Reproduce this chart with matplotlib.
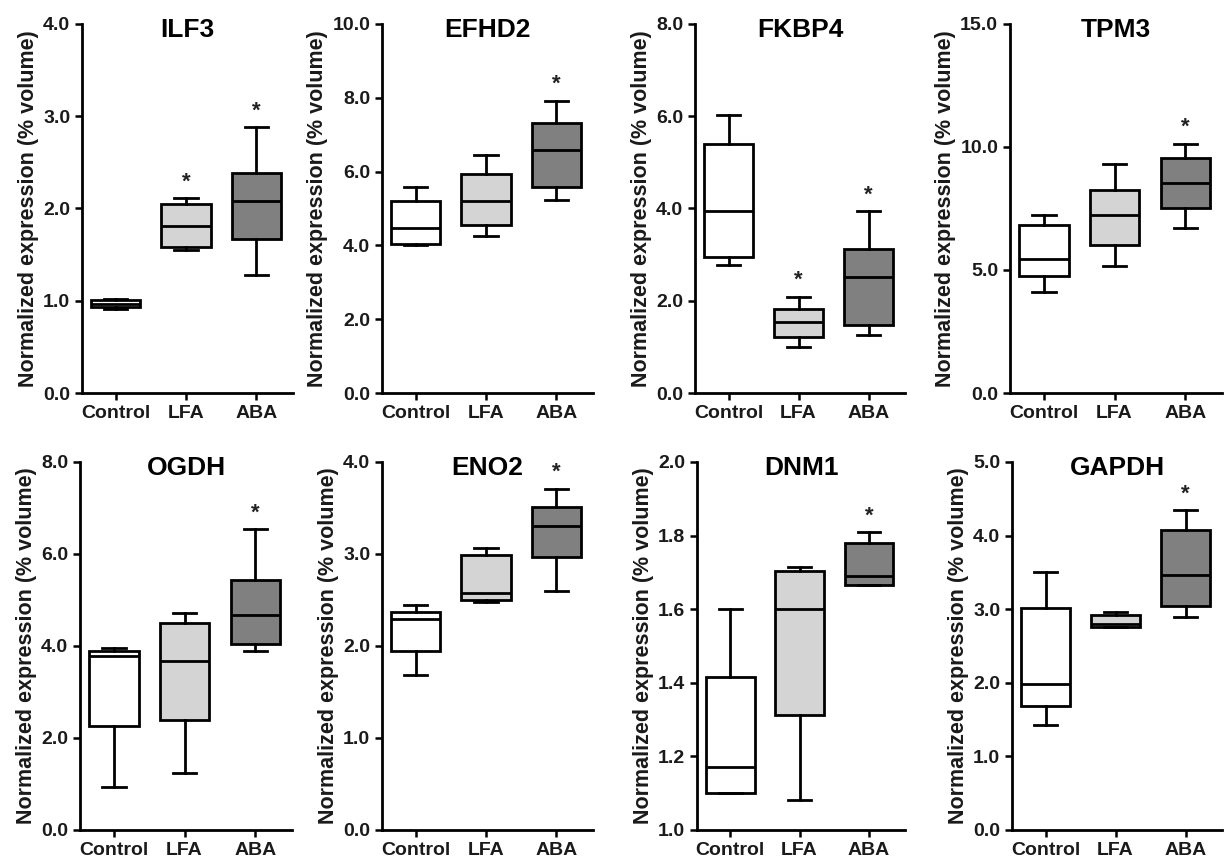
import matplotlib
matplotlib.use("Agg")
import matplotlib.pyplot as plt
from matplotlib.ticker import FormatStrFormatter

plt.rcParams['font.family'] = ['Liberation Sans', 'DejaVu Sans']
plt.rcParams['font.weight'] = 'bold'

groups = ['Control', 'LFA', 'ABA']
group_colors = ['#ffffff', '#d4d4d4', '#808080']

# per protein: (whislo, q1, median, q3, whishi) for Control, LFA, ABA
ilf3 = [(0.91, 0.93, 0.97, 1.01, 1.02), (1.55, 1.58, 1.81, 2.05, 2.11), (1.28, 1.67, 2.08, 2.38, 2.88)]
efhd2 = [(4.02, 4.04, 4.46, 5.19, 5.58), (4.25, 4.54, 5.19, 5.93, 6.44), (5.23, 5.57, 6.59, 7.31, 7.92)]
fkbp4 = [(2.78, 2.95, 3.95, 5.39, 6.03), (1.00, 1.21, 1.55, 1.83, 2.09), (1.25, 1.48, 2.51, 3.12, 3.95)]
tpm3 = [(4.11, 4.76, 5.45, 6.84, 7.24), (5.17, 6.03, 7.25, 8.27, 9.30), (6.71, 7.52, 8.54, 9.56, 10.14)]
ogdh = [(0.93, 2.27, 3.79, 3.90, 3.95), (1.23, 2.39, 3.68, 4.51, 4.72), (3.90, 4.04, 4.67, 5.43, 6.54)]
eno2 = [(1.68, 1.95, 2.29, 2.37, 2.45), (2.48, 2.50, 2.58, 2.99, 3.06), (2.60, 2.97, 3.30, 3.51, 3.71)]
dnm1 = [(1.10, 1.10, 1.17, 1.416, 1.60), (1.082, 1.313, 1.60, 1.704, 1.715), (1.665, 1.665, 1.69, 1.78, 1.809)]
gapdh = [(1.43, 1.68, 1.98, 3.02, 3.51), (2.76, 2.76, 2.80, 2.92, 2.96), (2.90, 3.05, 3.47, 4.07, 4.35)]

proteins = ['ILF3', 'EFHD2', 'FKBP4', 'TPM3', 'OGDH', 'ENO2', 'DNM1', 'GAPDH']
summaries = [ilf3, efhd2, fkbp4, tpm3, ogdh, eno2, dnm1, gapdh]
y_ticks = [
    [0, 1, 2, 3, 4],
    [0, 2, 4, 6, 8, 10],
    [0, 2, 4, 6, 8],
    [0, 5, 10, 15],
    [0, 2, 4, 6, 8],
    [0, 1, 2, 3, 4],
    [1.0, 1.2, 1.4, 1.6, 1.8, 2.0],
    [0, 1, 2, 3, 4, 5],
]
# groups marked significant (*) in each panel
significant = [[1, 2], [2], [1, 2], [2], [2], [2], [2], [2]]

# axes rectangles in pixels: left, top, right, bottom
W, H = 1226, 860
panel_px = [
    (82, 24, 293, 393), (382, 24, 593, 393), (695, 24, 905, 393), (1010, 24, 1222, 393),
    (80, 462, 292, 830), (382, 462, 593, 830), (697, 462, 905, 830), (1012, 462, 1222, 830),
]

fig = plt.figure(figsize=(W / 100, H / 100), dpi=100)

for name, stats, ticks, stars, (l, t, r, b) in zip(proteins, summaries, y_ticks, significant, panel_px):
    ax = fig.add_axes([l / W, (H - b) / H, (r - l) / W, (b - t) / H])
    box_stats = [
        dict(whislo=s[0], q1=s[1], med=s[2], q3=s[3], whishi=s[4], fliers=[], label=g)
        for s, g in zip(stats, groups)
    ]
    boxes = ax.bxp(box_stats, positions=[1, 2, 3], widths=0.7, capwidths=0.33,
                   patch_artist=True, showfliers=False,
                   boxprops=dict(linewidth=2.0, edgecolor='black'),
                   medianprops=dict(color='black', linewidth=2.0),
                   whiskerprops=dict(color='black', linewidth=2.0),
                   capprops=dict(color='black', linewidth=2.0))
    for patch, c in zip(boxes['boxes'], group_colors):
        patch.set_facecolor(c)

    for i in stars:
        ax.annotate('*', xy=(i + 1, stats[i][4]), xytext=(0, 4), textcoords='offset points',
                    ha='center', va='bottom', fontsize=16, color='#222222')

    ax.set_xlim(0.52, 3.52)
    ax.set_ylim(ticks[0], ticks[-1])
    ax.set_yticks(ticks)
    ax.yaxis.set_major_formatter(FormatStrFormatter('%.1f'))
    ax.set_xticks([1, 2, 3])
    ax.set_xticklabels(groups)
    ax.tick_params(labelsize=14, width=1.8, length=5, color='black', labelcolor='#1a1a1a')
    for side in ['top', 'right']:
        ax.spines[side].set_visible(False)
    for side in ['left', 'bottom']:
        ax.spines[side].set_linewidth(2.0)
    ax.spines['left'].set_bounds(ticks[0], ticks[-1])
    ax.set_ylabel('Normalized expression (% volume)', fontsize=15.5, fontweight='bold',
                  labelpad=3, color='#1a1a1a')
    ax.text(0.5, 0.965, name, transform=ax.transAxes, ha='center', va='baseline',
            fontsize=19, fontweight='bold')

fig.savefig('out.png', dpi=100)
